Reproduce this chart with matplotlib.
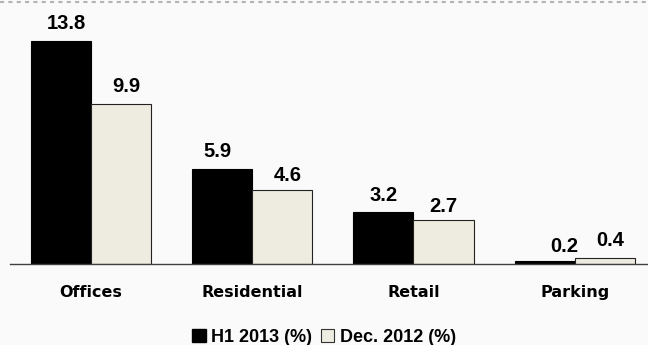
import matplotlib.pyplot as plt
from matplotlib.patches import Patch
from matplotlib.lines import Line2D
import numpy as np

# Share of vacant space by segment
segments = ["Offices", "Residential", "Retail", "Parking"]
h1_2013 = [13.8, 5.9, 3.2, 0.2]
dec_2012 = [9.9, 4.6, 2.7, 0.4]
series_names = ["H1 2013 (%)", "Dec. 2012 (%)"]

# label nudges (points), as placed in the original layout
nudge_h1 = [(4, 0), (-3, 0), (0, 0), (14, -2)]
nudge_dec = [(4, 0), (4, -2), (0, -2), (4, 0)]

BG = "#fafafa"
BEIGE = "#eeebe0"

fig = plt.figure(figsize=(6.48, 3.45), dpi=100, facecolor=BG)
ax = fig.add_axes([10 / 648, 81 / 345, 638 / 648, 264 / 345])
ax.set_facecolor(BG)

x = np.arange(len(segments))
w = 0.372
b1 = ax.bar(x - w / 2, h1_2013, w, color="black", edgecolor="black", linewidth=0.8)
b2 = ax.bar(x + w / 2, dec_2012, w, color=BEIGE, edgecolor="#222222", linewidth=0.8)

lab_font = dict(family="Liberation Sans", weight="bold", size=14.5)
for bars, vals, nudges in ((b1, h1_2013, nudge_h1), (b2, dec_2012, nudge_dec)):
    for rect, v, (dx, dy) in zip(bars, vals, nudges):
        ax.annotate(f"{v:.1f}", (rect.get_x() + rect.get_width() / 2, v),
                    xytext=(dx, 8.3 + dy), textcoords="offset points",
                    ha="center", va="baseline", **lab_font)

ax.set_xlim(-0.5, 3.453)
ax.set_ylim(0, 16.33)
ax.set_yticks([])
ax.set_xticks(x)
ax.set_xticklabels(segments, family="DejaVu Sans", weight="bold", fontsize=11.5)
ax.tick_params(axis="x", length=0, pad=15)
for s in ("top", "right", "left"):
    ax.spines[s].set_visible(False)
ax.spines["bottom"].set_color("#404040")
ax.spines["bottom"].set_linewidth(1.0)

handles = [Patch(facecolor="black", edgecolor="black"),
           Patch(facecolor=BEIGE, edgecolor="#333333", linewidth=0.8)]
fig.legend(handles, series_names, loc="lower center", bbox_to_anchor=(0.5, -0.05),
           ncol=2, frameon=False, handlelength=0.75, handleheight=0.75,
           handletextpad=0.3, columnspacing=0.5,
           prop=dict(family="Liberation Sans", weight="bold", size=13))

# dotted rule along the top edge
fig.add_artist(Line2D([0, 1], [1 - 1.5 / 345] * 2, transform=fig.transFigure,
                      color="#b4b4b4", linewidth=1.5, linestyle=(0, (2, 2))))

fig.savefig("out.png", dpi=100, facecolor=BG)
